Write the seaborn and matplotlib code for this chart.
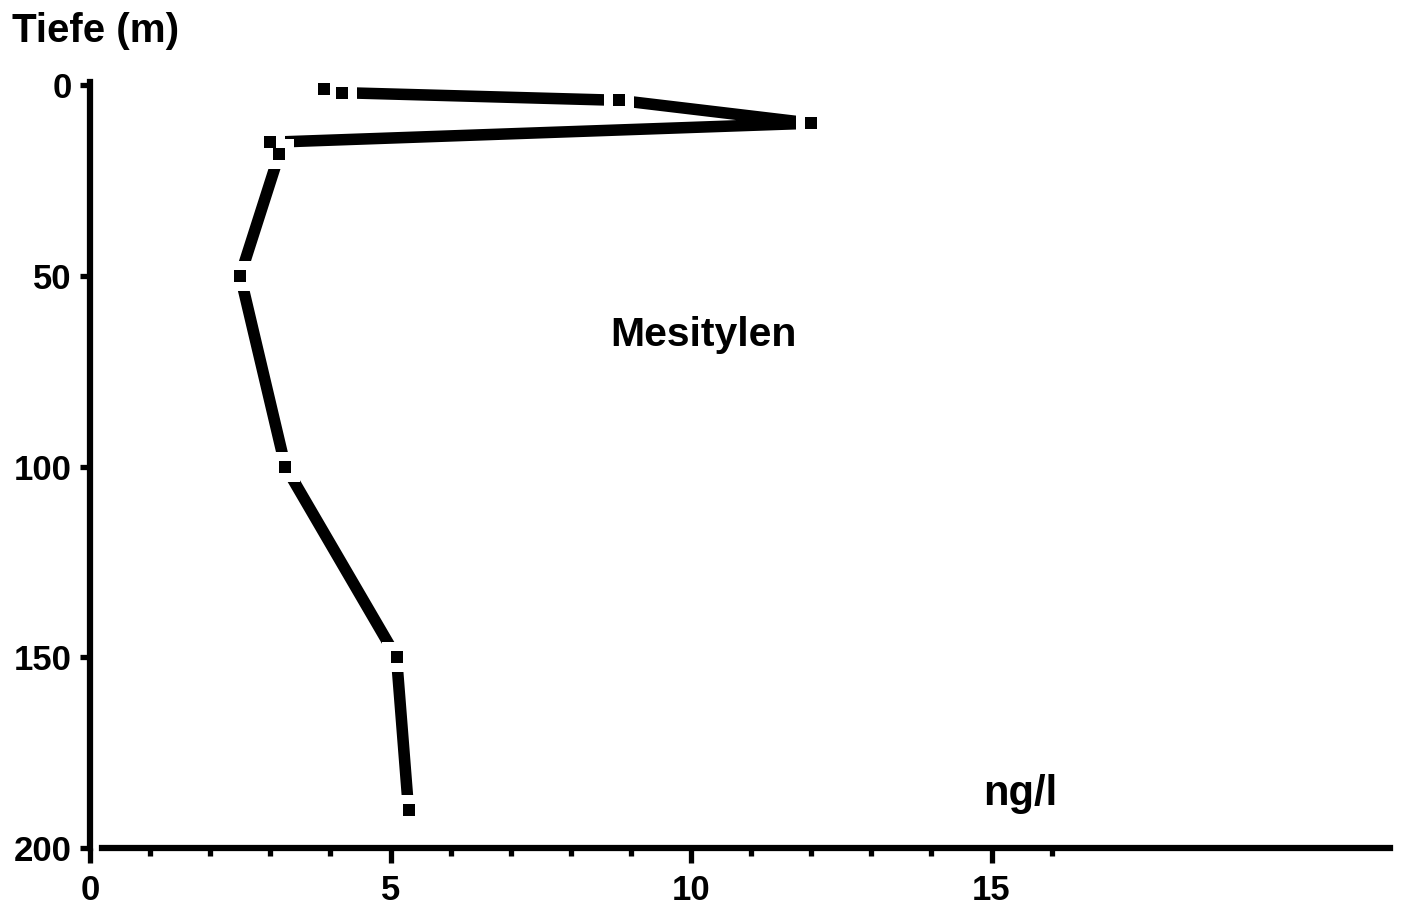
import matplotlib
matplotlib.use("Agg")
import matplotlib.pyplot as plt
import seaborn as sns
import pandas as pd

# ---- data ----
depth_m = [1, 2, 4, 10, 15, 18, 50, 100, 150, 190]
conc_ngl = [3.9, 4.2, 8.8, 12.0, 3.0, 3.15, 2.5, 3.25, 5.1, 5.3]
x_major = [0, 5, 10, 15]
x_minor = [1, 2, 3, 4, 6, 7, 8, 9, 11, 12, 13, 14, 16]
y_ticks = [0, 50, 100, 150, 200]
y_title = "Tiefe (m)"
x_unit = "ng/l"
series_name = "Mesitylen"

sns.set_theme(style="ticks")
plt.rcParams["font.family"] = ["Liberation Sans", "DejaVu Sans"]

df = pd.DataFrame({"ng_l": conc_ngl, "tiefe": depth_m})

W, H = 1417, 922
fig = plt.figure(figsize=(W / 100, H / 100), dpi=100)
fig.patch.set_facecolor("white")
ax = fig.add_axes([90 / W, 1 - 848 / H, 1300 / W, 766 / H])
ax.set_facecolor("white")

sns.lineplot(data=df, x="ng_l", y="tiefe", sort=False, estimator=None,
             orient="y", color="black", lw=8.3, ax=ax,
             solid_capstyle="butt", zorder=2)
# gaps around the vertices
sns.scatterplot(data=df, x="ng_l", y="tiefe", marker="s", s=21 ** 2,
                color="white", linewidth=0, ax=ax, zorder=3)
# square dots at the vertices
sns.scatterplot(data=df, x="ng_l", y="tiefe", marker="s", s=8.3 ** 2,
                color="black", linewidth=0, ax=ax, zorder=4)

ax.set_xlim(0, 21.63)
ax.set_ylim(200, -0.8)
ax.set_xticks(x_major)
ax.set_xticks(x_minor, minor=True)
ax.set_yticks(y_ticks)
ax.set_xlabel("")
ax.set_ylabel("")

ax.tick_params(axis="x", which="major", length=11, width=3.8, pad=8,
               labelsize=25, direction="out", color="black")
ax.tick_params(axis="x", which="minor", length=6, width=3.8,
               direction="out", color="black")
ax.tick_params(axis="y", which="major", length=7, width=3.8, pad=6,
               labelsize=25, direction="out", color="black")
for lbl in ax.get_xticklabels() + ax.get_yticklabels():
    lbl.set_fontweight("bold")
    lbl.set_color("black")

for s in ["top", "right"]:
    ax.spines[s].set_visible(False)
for s in ["left", "bottom"]:
    ax.spines[s].set_linewidth(4.5)
    ax.spines[s].set_color("black")
ax.spines["bottom"].set_bounds(0.2, 21.63)
ax.grid(False)

ax.text(10.2, 65.5, series_name, ha="center", va="center",
        fontsize=29.5, fontweight="bold", color="black")
ax.text(14.86, 188.6, x_unit, ha="left", va="baseline",
        fontsize=30, fontweight="bold", color="black")
fig.text(12 / W, 1 - 12 / H, y_title, ha="left", va="top",
         fontsize=29, fontweight="bold", color="black")

fig.savefig("out.png", dpi=100, facecolor="white")
